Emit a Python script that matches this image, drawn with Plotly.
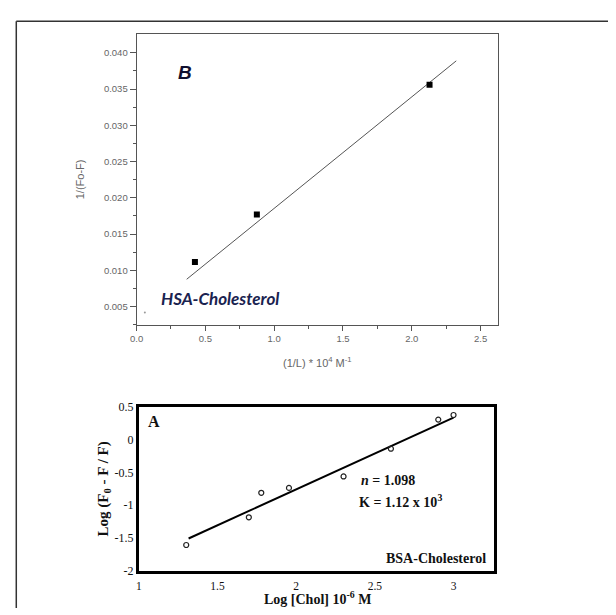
import plotly.graph_objects as go

# The page has an 8px body margin, so the figure is 608x607 and every
# reference pixel position is shifted by 8px.
W, H = 608, 607
OFF = 8

# ---- Top chart (B): HSA-Cholesterol double reciprocal ----
b_x = [0.424, 0.874, 2.129]
b_y = [0.01117, 0.0177, 0.03558]
b_fit_x = [0.364, 2.323]
b_fit_y = [0.00878, 0.03888]
b_stray_x = [0.06]
b_stray_y = [0.0042]
b_yticks = [0.005, 0.010, 0.015, 0.020, 0.025, 0.030, 0.035, 0.040]
b_ytick_labels = ["0.005", "0.010", "0.015", "0.020", "0.025", "0.030", "0.035", "0.040"]
b_xticks = [0.0, 0.5, 1.0, 1.5, 2.0, 2.5]
b_xtick_labels = ["0.0", "0.5", "1.0", "1.5", "2.0", "2.5"]

# ---- Bottom chart (A): BSA-Cholesterol double log ----
a_x = [1.301, 1.699, 1.778, 1.954, 2.301, 2.602, 2.903, 3.0]
a_y = [-1.61, -1.186, -0.811, -0.736, -0.561, -0.136, 0.309, 0.379]
a_fit_x = [1.316, 3.0]
a_fit_y = [-1.51, 0.339]
a_yticks = [-2, -1.5, -1, -0.5, 0, 0.5]
a_ytick_labels = ["-2", "-1.5", "-1", "-0.5", "0", "0.5"]
a_xticks = [1, 1.5, 2, 2.5, 3]
a_xtick_labels = ["1", "1.5", "2", "2.5", "3"]


def px(x):
    return (x - OFF) / W


def py(y):
    return 1 - (y - OFF) / H


fig = go.Figure()

fig.add_trace(go.Scatter(x=b_fit_x, y=b_fit_y, mode="lines",
                         line=dict(color="#555555", width=1),
                         xaxis="x", yaxis="y", showlegend=False))
fig.add_trace(go.Scatter(x=b_x, y=b_y, mode="markers",
                         marker=dict(symbol="square", size=6, color="black"),
                         xaxis="x", yaxis="y", showlegend=False))
fig.add_trace(go.Scatter(x=b_stray_x, y=b_stray_y, mode="markers",
                         marker=dict(symbol="circle", size=2, color="#999999"),
                         xaxis="x", yaxis="y", showlegend=False))

fig.add_trace(go.Scatter(x=a_fit_x, y=a_fit_y, mode="lines",
                         line=dict(color="black", width=2),
                         xaxis="x2", yaxis="y2", showlegend=False))
fig.add_trace(go.Scatter(x=a_x, y=a_y, mode="markers",
                         marker=dict(symbol="circle-open", size=5,
                                     color="#222222", line=dict(width=1.2)),
                         xaxis="x2", yaxis="y2", showlegend=False))

gray = "#555555"
sans = "Liberation Sans, Arial"
top_font = dict(family=sans, size=9.5, color="#666666")
serif = "Liberation Serif, Times New Roman"

fig.update_layout(
    width=W, height=H,
    margin=dict(l=0, r=0, t=0, b=0),
    paper_bgcolor="white", plot_bgcolor="white",
    xaxis=dict(domain=[px(131), px(496.7)], range=[0, 2.627],
               tickvals=b_xticks, ticktext=b_xtick_labels,
               showline=True, linecolor=gray, linewidth=1, mirror=True,
               ticks="outside", ticklen=5, tickcolor=gray, tickwidth=1,
               minor=dict(tickvals=[0.25, 0.75, 1.25, 1.75, 2.25], ticks="outside",
                          ticklen=3, tickcolor=gray),
               showgrid=False, zeroline=False, tickfont=top_font,
               title=dict(text="(1/L) * 10<sup>4</sup> M<sup>-1</sup>",
                          font=dict(family=sans, size=11, color="#666666"),
                          standoff=15),
               anchor="y"),
    yaxis=dict(domain=[py(325.3), py(27.3)], range=[0.00248, 0.0426],
               tickvals=b_yticks, ticktext=b_ytick_labels,
               showline=True, linecolor=gray, linewidth=1, mirror=True,
               ticks="outside", ticklen=6, tickcolor=gray, tickwidth=1,
               minor=dict(tickvals=[0.0025 + 0.005 * i for i in range(8)], ticks="outside",
                          ticklen=3, tickcolor=gray),
               showgrid=False, zeroline=False, tickfont=top_font,
               title=dict(text="1/(Fo-F)",
                          font=dict(family=sans, size=11, color="#666666"),
                          standoff=17),
               anchor="x"),
    xaxis2=dict(domain=[px(133.3), px(492.7)], range=[1, 3.258],
                tickvals=a_xticks, ticktext=a_xtick_labels,
                showline=True, linecolor="black", linewidth=3, mirror=True,
                ticks="outside", ticklen=3, tickcolor="rgba(0,0,0,0)",
                showgrid=False, zeroline=False,
                tickfont=dict(family=serif, size=11.5, color="#111111"),
                anchor="y2"),
    yaxis2=dict(domain=[py(576.7), py(409.3)], range=[-2.001, 0.501],
                tickvals=a_yticks, ticktext=a_ytick_labels,
                showline=True, linecolor="black", linewidth=3, mirror=True,
                ticks="", showgrid=False, zeroline=False,
                tickfont=dict(family=serif, size=12, color="#111111"),
                title=dict(text="<b>Log (F<sub>0</sub> - F / F)</b>",
                           font=dict(family=serif, size=15, color="#111111"),
                           standoff=3),
                anchor="x2"),
)


def note(text, x, y, xanchor, size, family, color="#111111"):
    return dict(text=text, x=px(x), y=py(y), xref="paper", yref="paper",
                xanchor=xanchor, yanchor="middle", showarrow=False,
                font=dict(family=family, size=size, color=color))


annotations = [
    note("<b><i>B</i></b>", 180, 67, "center", 19, sans, "#101030"),
    note("<b><i>HSA-Cholesterol</i></b>", 154, 297.7, "left", 17, "Lato, Noto Sans", "#1a2350"),
    note("<b>A</b>", 148.3, 424, "center", 16, serif),
    note("<b><i>n</i> = 1.098</b>", 356, 485, "left", 14, serif),
    note("<b>K = 1.12 x 10<sup>3</sup></b>", 354, 505, "left", 14, serif),
    note("<b>BSA-Cholesterol</b>", 487, 564, "right", 14, serif),
    # bottom chart x-axis title (kept as an annotation so it is not pushed into the tick labels)
    note("<b>Log [Chol] 10<sup>-6</sup> M</b>", 314.3, 605, "center", 14, serif),
]
fig.update_layout(annotations=annotations)

# outer frame: top edge and left edge (the right and bottom run off the page)
fig.add_shape(type="line", xref="paper", yref="paper",
              x0=px(9.3), y0=py(14.3), x1=1, y1=py(14.3),
              line=dict(color="#333333", width=1.5))
fig.add_shape(type="line", xref="paper", yref="paper",
              x0=px(9.3), y0=py(14.3), x1=px(9.3), y1=0,
              line=dict(color="#333333", width=1.5))

fig.write_html("out.html")
